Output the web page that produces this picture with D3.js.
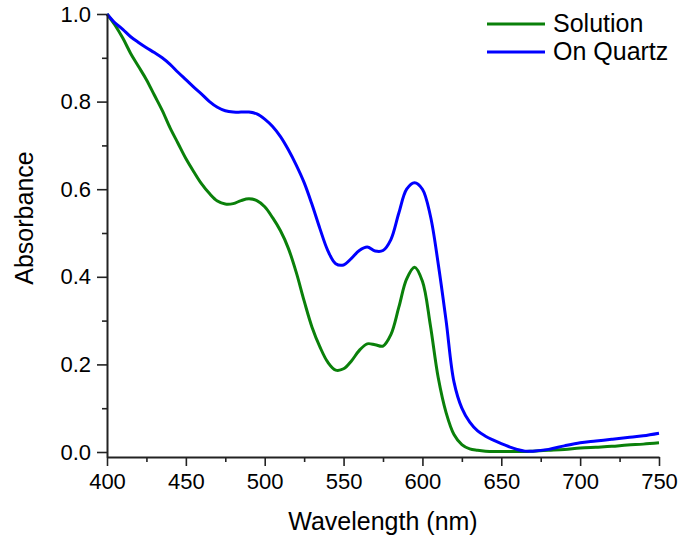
<!DOCTYPE html>
<html>
<head>
<meta charset="utf-8">
<script src="https://cdn.jsdelivr.net/npm/d3@7"></script>
<style>
  body { margin: 0; background: #fff; }
  text { font-family: "Liberation Sans", Arial, sans-serif; fill: #000; }
</style>
</head>
<body>
<div id="container"></div>
<script>
const width = 682;
const height = 541;

// wavelengths (nm)
const wavelength = [400, 405, 410, 415, 420, 425, 430, 435, 440, 445, 450, 455, 460, 465, 470, 475,
  480, 485, 490, 495, 500, 505, 510, 515, 520, 525, 530, 535, 540, 545, 550, 555, 560, 565, 570,
  575, 580, 585, 590, 595, 600, 605, 610, 615, 620, 625, 630, 635, 640, 645, 650, 655, 660, 665,
  670, 680, 690, 700, 710, 720, 730, 740, 750];

const solution = [1.0, 0.975, 0.945, 0.91, 0.88, 0.85, 0.815, 0.78, 0.74, 0.705, 0.67, 0.64, 0.612,
  0.59, 0.573, 0.566, 0.567, 0.574, 0.578, 0.574, 0.56, 0.535, 0.505, 0.465, 0.41, 0.345, 0.285,
  0.24, 0.205, 0.187, 0.19, 0.208, 0.232, 0.247, 0.245, 0.242, 0.268, 0.33, 0.395, 0.422, 0.39,
  0.29, 0.17, 0.09, 0.04, 0.017, 0.007, 0.004, 0.002, 0.001, 0.001, 0.001, 0.001, 0.001,
  0.002, 0.004, 0.006, 0.009, 0.011, 0.013, 0.016, 0.018, 0.021];

const onQuartz = [1.0, 0.98, 0.965, 0.948, 0.935, 0.923, 0.912, 0.9, 0.885, 0.867, 0.85, 0.833,
  0.817, 0.8, 0.787, 0.779, 0.776, 0.776, 0.776, 0.772, 0.76, 0.743, 0.72, 0.69, 0.655, 0.615,
  0.565, 0.51, 0.46, 0.43, 0.427, 0.442, 0.46, 0.468, 0.459, 0.46, 0.485, 0.545, 0.6, 0.615, 0.6,
  0.54, 0.43, 0.3, 0.16, 0.1, 0.068, 0.048, 0.036, 0.027, 0.019, 0.012, 0.006, 0.002,
  0.002, 0.006, 0.014, 0.021, 0.025, 0.029, 0.033, 0.037, 0.043];

const seriesNames = ["Solution", "On Quartz"];
const seriesColors = ["#0a800a", "#0000ff"];
const xTicks = [400, 450, 500, 550, 600, 650, 700, 750];
const yTicks = [0.0, 0.2, 0.4, 0.6, 0.8, 1.0];

const x = d3.scaleLinear().domain([400, 750]).range([107, 659]);
const y = d3.scaleLinear().domain([-0.0114, 1.0]).range([457, 14]);

const svg = d3.select("#container")
  .append("svg")
  .attr("width", width)
  .attr("height", height);

const line = d3.line()
  .x(d => x(d[0]))
  .y(d => y(d[1]))
  .curve(d3.curveCatmullRom);

[solution, onQuartz].forEach((vals, i) => {
  svg.append("path")
    .datum(wavelength.map((w, j) => [w, vals[j]]))
    .attr("fill", "none")
    .attr("stroke", seriesColors[i])
    .attr("stroke-width", 3)
    .attr("d", line);
});

// x axis, major + minor ticks
const xMinor = d3.range(425, 750, 50);
svg.append("g")
  .attr("transform", `translate(0,${y.range()[0]})`)
  .call(d3.axisBottom(x).tickValues(xMinor).tickSize(5).tickFormat(""))
  .call(g => g.select(".domain").remove());
svg.append("g")
  .attr("transform", `translate(0,${y.range()[0]})`)
  .call(d3.axisBottom(x).tickValues(xTicks).tickSize(9).tickSizeOuter(0).tickPadding(7));

const yMinor = [0.1, 0.3, 0.5, 0.7, 0.9];
svg.append("g")
  .attr("transform", `translate(${x.range()[0]},0)`)
  .call(d3.axisLeft(y).tickValues(yMinor).tickSize(5).tickFormat(""))
  .call(g => g.select(".domain").remove());
svg.append("g")
  .attr("transform", `translate(${x.range()[0]},0)`)
  .call(d3.axisLeft(y).tickValues(yTicks).tickSize(10).tickSizeOuter(0).tickPadding(6)
    .tickFormat(d3.format(".1f")));

svg.selectAll(".domain").attr("stroke-width", 2).attr("stroke", "#222");
svg.selectAll(".tick line").attr("stroke-width", 1.6).attr("stroke", "#222");
svg.selectAll(".tick text").style("font-size", "22px").attr("fill", "#000");

// axis titles
svg.append("text")
  .attr("x", 383)
  .attr("y", 530)
  .attr("text-anchor", "middle")
  .style("font-size", "25px")
  .text("Wavelength (nm)");

svg.append("text")
  .attr("transform", "translate(33,218) rotate(-90)")
  .attr("text-anchor", "middle")
  .style("font-size", "25px")
  .text("Absorbance");

// legend
const legend = svg.append("g");
seriesNames.forEach((name, i) => {
  const ly = 24 + i * 28;
  legend.append("line")
    .attr("x1", 487).attr("x2", 545)
    .attr("y1", ly).attr("y2", ly)
    .attr("stroke", seriesColors[i])
    .attr("stroke-width", 3);
  legend.append("text")
    .attr("x", 553)
    .attr("y", ly + 8)
    .style("font-size", "25px")
    .text(name);
});
</script>
</body>
</html>
